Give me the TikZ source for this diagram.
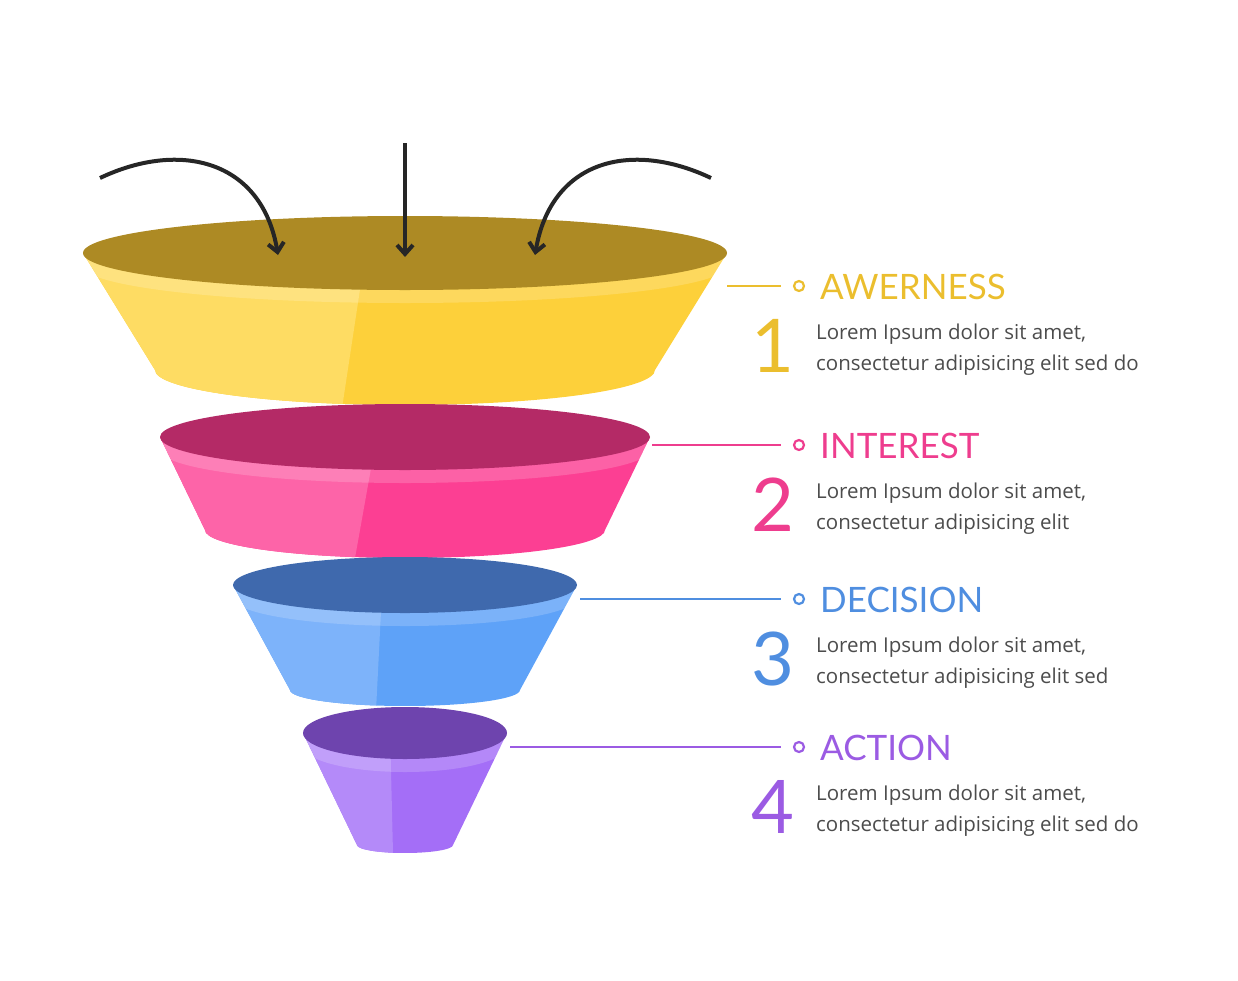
\documentclass[tikz,border=0pt]{standalone}
\usepackage{fontspec}
\setmainfont{Open Sans}
\newfontfamily\titlefont{Lato}
\usetikzlibrary{arrows.meta}
\definecolor{yel}{HTML}{FDD03A}\definecolor{yelL}{HTML}{FEDC63}\definecolor{yelT}{HTML}{AD8A24}\definecolor{yelX}{HTML}{EBBE2E}
\definecolor{pnk}{HTML}{FC3F93}\definecolor{pnkL}{HTML}{FD64A8}\definecolor{pnkT}{HTML}{B42A66}\definecolor{pnkX}{HTML}{EE3D8E}
\definecolor{blu}{HTML}{5EA2F8}\definecolor{bluL}{HTML}{7DB3FA}\definecolor{bluT}{HTML}{3F69AD}\definecolor{bluX}{HTML}{4F8EE0}
\definecolor{pur}{HTML}{A46EF7}\definecolor{purL}{HTML}{B48AF9}\definecolor{purT}{HTML}{6E44AE}\definecolor{purX}{HTML}{9B5BE3}
\tikzset{
 arr/.style={line width=4pt,color=black!85,-{Straight Barb[length=9pt,width=16pt,line width=4pt]}},
 lbl/.style={line width=2.5pt},
 dotc/.style={circle,draw,line width=2.2pt,inner sep=0pt,minimum size=10pt},
 ttl/.style={anchor=west,font=\titlefont\fontsize{35}{35}\selectfont,inner sep=0pt},
 num/.style={font=\titlefont\fontsize{74}{74}\selectfont,inner sep=0pt},
 body/.style={anchor=north west,align=left,font=\fontsize{20.5}{31}\selectfont,text=black!70,inner sep=0pt}
}
\newcommand{\seg}[9]{% cx ty R a by r b main light
 \begin{scope}
 \path[clip] ({#1-#3},#2) -- ({#1-#6},#5) arc (180:360:#6pt and #7pt) -- ({#1+#3},#2) -- cycle;
 \fill[#8] ({#1-#3},{#2-#4}) rectangle ({#1+#3},{#5+#7});
 \fill[#9] ({#1-#3},{#2-#4}) -- ({#1-#3*0.16},{#2-#4}) -- ({#1-#3*0.14},{#2+#4}) -- ({#1-#6*0.25},{#5+#7}) -- ({#1-#3},{#5+#7}) -- cycle;
 \fill[white,opacity=0.18] (#1,#2+13) ellipse [x radius=#3pt,y radius=#4pt];
 \end{scope}
}
\begin{document}
\begin{tikzpicture}[x=1pt,y=-1pt]
\useasboundingbox (0,0) rectangle (1238,980);
\seg{405}{253}{322}{37}{370}{250}{35}{yel}{yelL}
\fill[yelT] (405,253) ellipse [x radius=322pt,y radius=37pt];
\seg{405}{437}{245}{33}{530}{200}{28}{pnk}{pnkL}
\fill[pnkT] (405,437) ellipse [x radius=245pt,y radius=33pt];
\seg{405}{585}{172}{28}{690}{115}{16}{blu}{bluL}
\fill[bluT] (405,585) ellipse [x radius=172pt,y radius=28pt];
\seg{405}{733}{102}{26}{845}{48}{8}{pur}{purL}
\fill[purT] (405,733) ellipse [x radius=102pt,y radius=26pt];
% arrows
\coordinate (a1) at (100,178); \coordinate (b1) at (278,255);
\coordinate (a2) at (405,143); \coordinate (b2) at (405,257);
\coordinate (a3) at (711,178); \coordinate (b3) at (535,255);
\draw[arr] (a1) .. controls (180,140) and (262,160) .. (b1);
\draw[arr] (a2) -- (b2);
\draw[arr] (a3) .. controls (631,140) and (551,160) .. (b3);
% labels
\foreach \y/\x/\c/\t/\n/\la/\lb in {286/727/yelX/AWERNESS/1/{Lorem Ipsum dolor sit amet,}/{consectetur adipisicing elit sed do},
 445/652/pnkX/INTEREST/2/{Lorem Ipsum dolor sit amet,}/{consectetur adipisicing elit},
 599/580/bluX/DECISION/3/{Lorem Ipsum dolor sit amet,}/{consectetur adipisicing elit sed},
 747/510/purX/ACTION/4/{Lorem Ipsum dolor sit amet,}/{consectetur adipisicing elit sed do}}{
 \coordinate (s\n) at (\x,\y);
 \node[dotc,draw=\c] (d\n) at (799,\y) {};
 \draw[lbl,\c] (s\n) -- (781,\y);
 \node[ttl,text=\c] (t\n) at (820,\y+1) {\t};
 \node[num,text=\c] (n\n) at (773,\y+60) {\n};
 \node[body] (p\n) at (816,\y+38) {\la\\\lb};
}
\end{tikzpicture}
\end{document}
